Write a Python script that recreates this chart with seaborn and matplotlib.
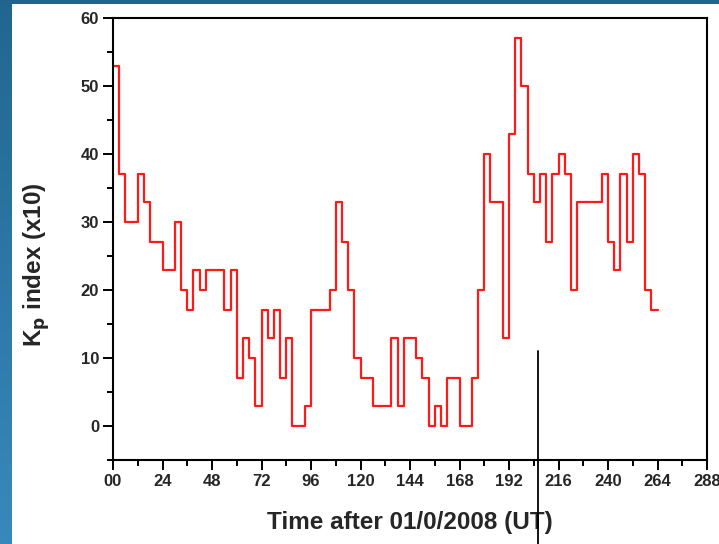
import numpy as np
import pandas as pd
import matplotlib
matplotlib.use('Agg')
import matplotlib.pyplot as plt
import seaborn as sns
from matplotlib.patches import Rectangle
from matplotlib.ticker import MultipleLocator, FixedLocator

# Kp index (x10), 3-hourly values starting at hour 0
kp_x10 = [53, 37, 30, 30, 37, 33, 27, 27, 23, 23,
          30, 20, 17, 23, 20, 23, 23, 23, 17, 23,
          7, 13, 10, 3, 17, 13, 17, 7, 13, 0,
          0, 3, 17, 17, 17, 20, 33, 27, 20, 10,
          7, 7, 3, 3, 3, 13, 3, 13, 13, 10,
          7, 0, 3, 0, 7, 7, 0, 0, 7, 20,
          40, 33, 33, 13, 43, 57, 50, 37, 33, 37,
          27, 37, 40, 37, 20, 33, 33, 33, 33, 37,
          27, 23, 37, 27, 40, 37, 20, 17]
step_hours = 3
x_ticks = [0, 24, 48, 72, 96, 120, 144, 168, 192, 216, 240, 264, 288]
x_tick_labels = ['00', '24', '48', '72', '96', '120', '144', '168', '192',
                 '216', '240', '264', '288']
y_ticks = [0, 10, 20, 30, 40, 50, 60]
marker_time = 206
marker_top = 11

# step edges: each value holds for 3 h, repeat last value to close the final step
hours = np.arange(len(kp_x10) + 1) * step_hours
df = pd.DataFrame({'time': hours, 'kp': kp_x10 + [kp_x10[-1]]})

sns.set_style('white')
font = ['Liberation Sans Narrow', 'Liberation Sans', 'DejaVu Sans']
plt.rcParams['font.family'] = font
plt.rcParams['font.weight'] = 'bold'

fig = plt.figure(figsize=(7.19, 5.44), dpi=100)
fig.patch.set_facecolor('white')

# slide-style blue frame on top and left
fig.patches.append(Rectangle((0, 1 - 4 / 544), 1, 4 / 544, transform=fig.transFigure,
                             facecolor='#20658f', edgecolor='none', zorder=0))
band = fig.add_axes([0, 0, 12 / 719, 1])
grad = np.linspace(0, 1, 256).reshape(-1, 1)
cmap = matplotlib.colors.LinearSegmentedColormap.from_list('b', ['#21668f', '#3889bb'])
band.imshow(grad, aspect='auto', cmap=cmap, extent=[0, 1, 0, 1], origin='upper')
band.set_axis_off()

ax = fig.add_axes([113 / 719, 1 - 460 / 544, (707 - 113) / 719, (460 - 18) / 544])
sns.lineplot(data=df, x='time', y='kp', ax=ax, color='#ff1a1a', linewidth=1.6,
             drawstyle='steps-post', legend=False)

ax.set_xlim(0, 288)
ax.set_ylim(-5, 60)
ax.xaxis.set_major_locator(FixedLocator(x_ticks))
ax.set_xticklabels(x_tick_labels)
ax.xaxis.set_minor_locator(MultipleLocator(12))
ax.yaxis.set_major_locator(FixedLocator(y_ticks))
ax.yaxis.set_minor_locator(MultipleLocator(5))

for s in ax.spines.values():
    s.set_color('black')
    s.set_linewidth(1.5)
ax.tick_params(axis='both', which='major', direction='out', length=7, width=1.4,
               labelsize=12, color='black', bottom=True, left=True, pad=3)
ax.tick_params(axis='both', which='minor', direction='out', length=4, width=1.4,
               color='black', bottom=True, left=True)
for lab in ax.get_xticklabels() + ax.get_yticklabels():
    lab.set_fontweight('bold')

ax.set_xlabel('Time after 01/0/2008 (UT)', fontsize=17.5, fontweight='bold')
ax.xaxis.set_label_coords(0.5, -0.115)
ax.set_ylabel('K$_\\mathbf{p}$ index (x10)', fontsize=17.5, fontweight='bold')
ax.yaxis.set_label_coords(-0.103, 0.443)

# vertical marker line running below the axis
ax.plot([marker_time, marker_time], [marker_top, -30], color='black', linewidth=1.3,
        clip_on=False, zorder=5)

fig.savefig('out.png', dpi=100)
